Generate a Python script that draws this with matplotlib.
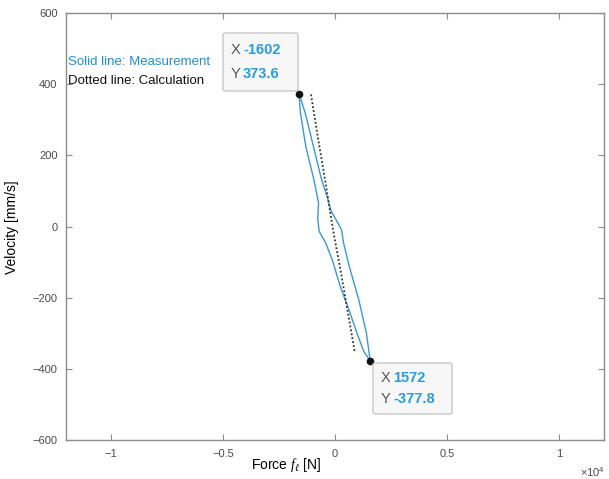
import numpy as np
import matplotlib.pyplot as plt
from matplotlib.patches import FancyBboxPatch

plt.rcParams['font.family'] = ['Liberation Sans', 'DejaVu Sans']
plt.rcParams['mathtext.fontset'] = 'custom'
plt.rcParams['mathtext.it'] = 'Liberation Serif:italic'
plt.rcParams['mathtext.rm'] = 'Liberation Sans'

# measured force-velocity loop [N], [mm/s]
meas_down_f = [-1602, -1540, -1300, -940, -730, -770, -700, -420, -110, 220, 630, 1000, 1290, 1572]
meas_down_v = [373.6, 320, 225, 132, 66, 22, -14, -45, -95, -165, -235, -303, -351, -377.8]
meas_up_f = [1572, 1400, 1060, 640, 380, 300, 40, -180, -330, -610, -960, -1330, -1602]
meas_up_v = [-377.8, -298, -205, -112, -45, -10, 20, 45, 80, 135, 225, 320, 373.6]

# calculated curve
calc_f = [-1067, -760, -444, -89, 270, 600, 889]
calc_v = [371, 250, 132, -8, -130, -250, -354]

# data tips
tip_f = [-1602, 1572]
tip_v = [373.6, -377.8]

blue = '#3a98d8'
tipblue = '#2a9be0'
axcol = '#8c8c8c'
labcol = '#4a4a4a'

fig = plt.figure(figsize=(6.09, 4.79), dpi=100)
ax = fig.add_axes([0.108, 0.081, 0.884, 0.892])

ax.plot(np.array(meas_down_f) / 1e4, meas_down_v, color=blue, lw=1.0)
ax.plot(np.array(meas_up_f) / 1e4, meas_up_v, color=blue, lw=1.0)
ax.plot(np.array(calc_f) / 1e4, calc_v, color='#333333', lw=1.3, ls=(0, (1, 1.2)))
ax.plot(np.array(tip_f) / 1e4, tip_v, 'o', color='#111111', ms=4.5, zorder=5)

ax.set_xlim(-1.2, 1.2)
ax.set_ylim(-600, 600)
ax.set_xticks([-1, -0.5, 0, 0.5, 1])
ax.set_xticklabels(['\u22121', '\u22120.5', '0', '0.5', '1'])
ax.set_yticks([-600, -400, -200, 0, 200, 400, 600])
ax.set_yticklabels(['\u2212600', '\u2212400', '\u2212200', '0', '200', '400', '600'])
ax.tick_params(direction='in', top=True, right=True, length=4, width=0.8,
               color=axcol, labelcolor=labcol, labelsize=8, pad=6)
for sp in ax.spines.values():
    sp.set_color(axcol)
    sp.set_linewidth(1.0)

# legend text
ax.text(0.005, 0.885, 'Solid line: Measurement', transform=ax.transAxes,
        color='#1f8fd8', fontsize=9.5, va='center', ha='left')
ax.text(0.005, 0.840, 'Dotted line: Calculation', transform=ax.transAxes,
        color='#111111', fontsize=9.5, va='center', ha='left')

# data tip boxes
def datatip(x0, y0, w, h, xs, ys):
    box = FancyBboxPatch((x0, y0), w, h, boxstyle='round,pad=0,rounding_size=0.004',
                         transform=fig.transFigure, facecolor='#f7f7f7',
                         edgecolor='#c8c8c8', lw=1.0, zorder=6)
    fig.patches.append(box)
    fig.text(x0 + 0.012, y0 + h * 0.70, 'X', color='#555555', fontsize=10.5, va='center', zorder=7)
    fig.text(x0 + 0.033, y0 + h * 0.70, xs, color=tipblue, fontsize=10.5, fontweight='bold', va='center', zorder=7)
    fig.text(x0 + 0.012, y0 + h * 0.30, 'Y', color='#555555', fontsize=10.5, va='center', zorder=7)
    fig.text(x0 + 0.033, y0 + h * 0.30, ys, color=tipblue, fontsize=10.5, fontweight='bold', va='center', zorder=7)

datatip(223 / 609, 1 - 91 / 479, 75 / 609, 58 / 479, '-1602', '373.6')
datatip(373 / 609, 1 - 414 / 479, 79 / 609, 51 / 479, '1572', '-377.8')

fig.text(0.020, 0.525, 'Velocity [mm/s]', rotation=90, fontsize=10, va='center', ha='center')
fig.text(0.470, 0.030, r'Force $f_\ell$ [N]', fontsize=10, va='center', ha='center')
fig.text(0.952, 0.014, r'$\times10^4$', fontsize=8, color=labcol, va='center', ha='left')

fig.savefig('out.png', dpi=100)
